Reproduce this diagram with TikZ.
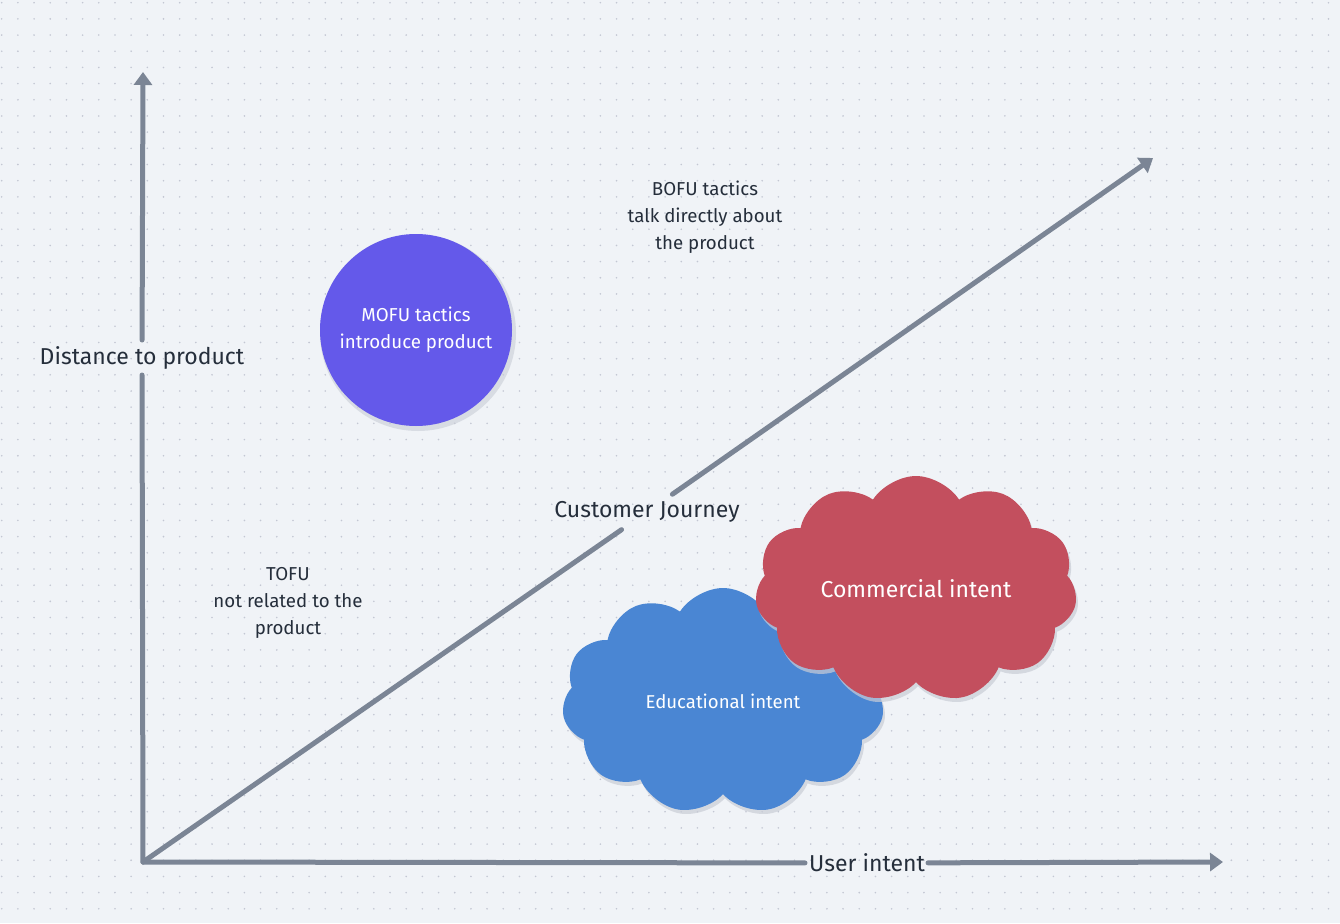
\documentclass[tikz,border=0pt]{standalone}
\usepackage{fontspec}
\setmainfont{Fira Sans}
\usetikzlibrary{arrows.meta,shapes.symbols,calc}
\definecolor{bgc}{HTML}{F0F3F7}
\definecolor{dotc}{HTML}{C3C7D3}
\definecolor{axisc}{HTML}{7B8595}
\definecolor{txtc}{HTML}{252E3B}
\definecolor{purp}{HTML}{6459EA}
\definecolor{cred}{HTML}{C34F5E}
\definecolor{cblue}{HTML}{4A86D3}
\definecolor{shc}{HTML}{C9CDD6}
\begin{document}
\begin{tikzpicture}[x=1pt,y=-1pt,
  axisline/.style={draw=axisc,line width=5pt,line cap=round},
  tip/.style={-{Triangle[width=18pt,length=13pt]}},
  lbl/.style={text=txtc,font=\fontsize{23}{26}\selectfont,inner sep=0pt},
  note/.style={text=txtc,font=\fontsize{18.7}{27}\selectfont,align=center,inner sep=0pt},
  inlbl/.style={text=white,align=center,inner sep=0pt},
  cloudshape/.style={cloud,cloud puffs=11,cloud puff arc=115,aspect=1.43,minimum width=322pt,minimum height=226pt,inner sep=0pt}]
\useasboundingbox (0,0) rectangle (1340,923);
\fill[bgc] (0,0) rectangle (1340,923);
\foreach \i in {0,...,82}{\foreach \j in {0,...,56}{\fill[dotc] (1.7+16.18*\i,2.7+16.18*\j) circle (0.9);}}
% axes
\coordinate (o) at (143,862);
\coordinate (ytip) at (143,72);
\coordinate (xtip) at (1223,862);
\coordinate (dtip) at (1153,158);
\node[lbl] (ylab) at (142,358) {Distance to product};
\node[lbl] (xlab) at (867,863) {User intent};
\node[lbl] (cj) at (647,512) {Customer Journey};
\draw[axisline] (o) -- ($(ylab.center)!17pt!(o)$);
\draw[axisline,tip] ($(ylab.center)!18pt!(ytip)$) -- (ytip);
\draw[axisline] (o) -- ($(xlab.center)!62pt!(o)$);
\draw[axisline,tip] ($(xlab.center)!61pt!(xtip)$) -- (xtip);
\draw[axisline] (o) -- ($(cj.center)!31pt!(o)$);
\draw[axisline,tip] ($(cj.center)!31pt!(dtip)$) -- (dtip);
% MOFU circle
\fill[shc,opacity=0.6] (418,333) circle (98);
\node[circle,fill=purp,minimum size=192pt,inner sep=0pt,inlbl,font=\fontsize{18.7}{27}\selectfont] (mofu) at (416,330) {MOFU tactics\\introduce product};
% notes
\node[note] (bofu) at (705,217) {BOFU tactics\\talk directly about\\the product};
\node[note] (tofu) at (288,603) {TOFU\\not related to the\\product};
% clouds
\node[cloudshape,fill=shc,opacity=0.7] (edush) at (725,705) {};
\node[cloudshape,fill=cblue,inlbl,font=\fontsize{18.6}{22}\selectfont] (edu) at (723,701) {Educational intent};
\node[cloudshape,fill=shc,opacity=0.7] (comsh) at (918,593) {};
\node[cloudshape,fill=cred,inlbl,font=\fontsize{23}{26}\selectfont] (com) at (916,589) {Commercial intent};
\end{tikzpicture}
\end{document}
